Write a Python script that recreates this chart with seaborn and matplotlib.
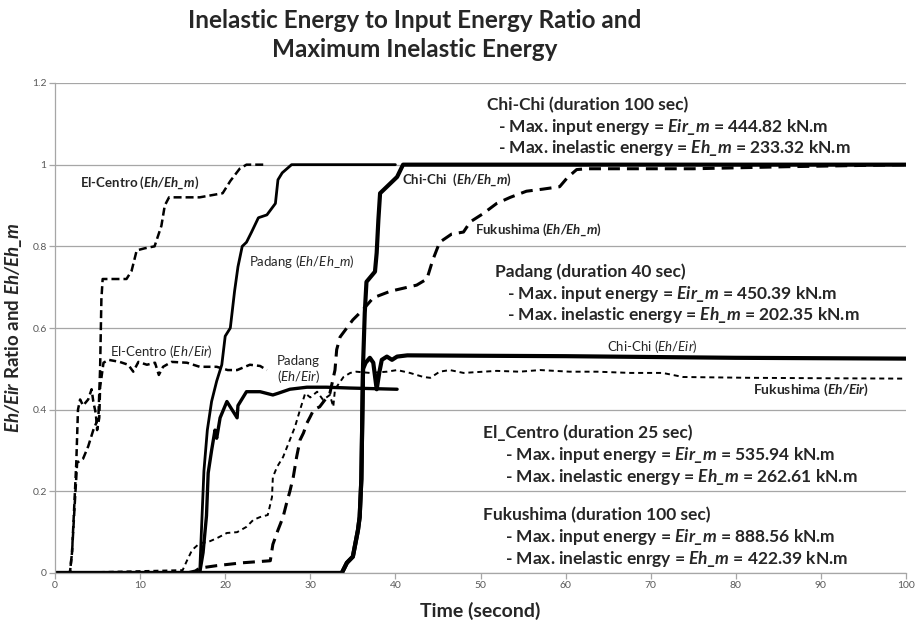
import pandas as pd
import seaborn as sns
import matplotlib.pyplot as plt
from matplotlib.ticker import FuncFormatter

# values: time (second) vs ratio
ec_m_t = [0, 1.75, 2.0, 2.35, 2.6, 3.3, 3.9, 4.5, 5.1, 5.3, 5.45, 5.6, 6.5, 8.4, 9.0, 9.6,
          10.5, 11.7, 12.5, 12.9, 13.4, 15.0, 17.0, 19.7, 20.6, 21.7, 22.5, 24.7]
ec_m_v = [0, 0, 0.05, 0.18, 0.27, 0.28, 0.31, 0.35, 0.38, 0.5, 0.67, 0.72, 0.72, 0.72, 0.74, 0.79,
          0.795, 0.80, 0.85, 0.90, 0.92, 0.92, 0.92, 0.93, 0.96, 0.99, 1.0, 1.0]

ec_r_t = [0, 1.75, 2.0, 2.3, 2.5, 2.7, 2.95, 3.3, 3.9, 4.3, 4.5, 4.8, 4.95, 5.2, 5.3, 5.7, 6.3,
          7.6, 8.6, 9.2, 9.8, 10.8, 11.75, 12.2, 12.7, 13.7, 15.5, 17.0, 19.0, 20.3, 21.4,
          22.9, 24.1, 24.9]
ec_r_v = [0, 0, 0.05, 0.18, 0.27, 0.40, 0.425, 0.41, 0.425, 0.45, 0.42, 0.39, 0.35, 0.38, 0.455,
          0.515, 0.522, 0.517, 0.51, 0.493, 0.517, 0.51, 0.515, 0.485, 0.505, 0.517, 0.515,
          0.505, 0.505, 0.497, 0.497, 0.51, 0.507, 0.497]

pd_m_t = [0, 17.0, 17.2, 17.5, 17.9, 18.4, 19.0, 19.6, 20.0, 20.6, 21.1, 21.5, 22.0, 22.5,
          23.1, 23.9, 24.9, 25.9, 26.2, 26.7, 27.8, 40.0]
pd_m_v = [0, 0, 0.10, 0.25, 0.35, 0.42, 0.47, 0.51, 0.58, 0.60, 0.69, 0.75, 0.80, 0.81,
          0.835, 0.87, 0.877, 0.905, 0.963, 0.98, 1.0, 1.0]

pd_r_t = [0, 17.0, 17.4, 17.8, 18.0, 18.4, 18.8, 19.0, 19.4, 20.2, 20.8, 21.4, 21.5, 22.5,
          23.3, 24.1, 25.6, 26.2, 27.6, 29.6, 31.9, 34.6, 40.2]
pd_r_v = [0, 0, 0.05, 0.14, 0.245, 0.30, 0.35, 0.33, 0.38, 0.42, 0.40, 0.38, 0.41, 0.444,
          0.444, 0.444, 0.436, 0.44, 0.45, 0.455, 0.455, 0.453, 0.45]

cc_m_t = [0, 33.7, 34.3, 35.0, 35.6, 35.8, 36.0, 36.2, 36.4, 36.6, 37.0, 37.6, 37.8, 38.0,
          38.2, 39.0, 40.2, 40.9, 100]
cc_m_v = [0, 0, 0.025, 0.04, 0.105, 0.137, 0.23, 0.51, 0.637, 0.713, 0.723, 0.738, 0.784,
          0.865, 0.93, 0.946, 0.97, 1.0, 1.0]

cc_r_t = [0, 33.7, 34.3, 35.0, 35.6, 35.8, 36.0, 36.2, 36.5, 37.0, 37.4, 37.8, 38.1, 38.4,
          39.0, 39.6, 40.2, 41.4, 50, 60, 70, 80, 90, 100]
cc_r_v = [0, 0, 0.025, 0.04, 0.105, 0.137, 0.23, 0.50, 0.515, 0.527, 0.515, 0.45, 0.49, 0.522,
          0.53, 0.522, 0.53, 0.533, 0.532, 0.531, 0.529, 0.527, 0.526, 0.525]

fk_m_t = [0, 15.5, 16.5, 17.0, 19.0, 22.0, 25.3, 25.6, 26.2, 26.8, 27.2, 27.6, 28.0, 28.4,
          28.8, 29.2, 29.6, 30.0, 30.4, 31.1, 32.3, 32.9, 33.1, 33.5, 35.0, 36.2, 37.4, 39.4,
          42.5, 43.7, 44.4, 45.2, 46.6, 48.0, 48.8, 50.3, 51.9, 53.5, 55.4, 57.3, 59.3, 60.2,
          61.3, 62.5, 75, 86, 100]
fk_m_v = [0, 0, 0.005, 0.012, 0.018, 0.025, 0.03, 0.07, 0.105, 0.137, 0.17, 0.2, 0.235, 0.285,
          0.326, 0.343, 0.367, 0.383, 0.40, 0.407, 0.44, 0.497, 0.547, 0.578, 0.62, 0.645,
          0.674, 0.69, 0.705, 0.72, 0.767, 0.81, 0.83, 0.835, 0.86, 0.88, 0.905, 0.92, 0.935,
          0.94, 0.946, 0.968, 0.988, 0.99, 0.99, 0.995, 1.0]

fk_r_t = [0, 15.0, 15.5, 16.1, 17.0, 18.0, 19.0, 20.2, 21.4, 22.5, 23.3, 24.1, 25.0, 25.5,
          25.6, 26.1, 26.8, 27.6, 28.2, 28.8, 29.4, 30.0, 30.8, 31.5, 32.3, 32.7, 32.9, 33.9,
          34.7, 35.4, 37.0, 39.0, 40.2, 41.7, 43.3, 44.1, 45.2, 46.4, 48.0, 51.9, 54.6, 57.0,
          60.5, 63.7, 67.6, 71.4, 73.8, 81.7, 90, 100]
fk_r_v = [0, 0.007, 0.03, 0.056, 0.073, 0.076, 0.085, 0.098, 0.1, 0.113, 0.13, 0.137, 0.142,
          0.186, 0.235, 0.26, 0.284, 0.326, 0.358, 0.40, 0.44, 0.43, 0.444, 0.424, 0.436,
          0.407, 0.45, 0.48, 0.49, 0.493, 0.49, 0.493, 0.497, 0.49, 0.48, 0.478, 0.493, 0.497,
          0.49, 0.495, 0.493, 0.497, 0.493, 0.493, 0.49, 0.49, 0.48, 0.478, 0.477, 0.476]

sns.set_style("white")
plt.rcParams["font.family"] = ["Lato", "DejaVu Sans"]
plt.rcParams["mathtext.fontset"] = "custom"
plt.rcParams["mathtext.rm"] = "Lato"
plt.rcParams["mathtext.it"] = "Lato:italic"
plt.rcParams["mathtext.bf"] = "Lato:bold"
plt.rcParams["mathtext.bfit"] = "Lato:italic:bold"

fig = plt.figure(figsize=(9.15, 6.22), dpi=100)
ax = fig.add_axes([55 / 915, 49 / 622, 851 / 915, 490 / 622])

# (t, v, linewidth, linestyle)
series = [
    (fk_r_t, fk_r_v, 1.4, (0, (2.6, 2.0))),
    (fk_m_t, fk_m_v, 2.2, (0, (3.9, 2.3))),
    (ec_r_t, ec_r_v, 1.8, (0, (2.8, 1.6))),
    (ec_m_t, ec_m_v, 1.8, (0, (3.2, 1.6))),
    (pd_r_t, pd_r_v, 2.4, "-"),
    (pd_m_t, pd_m_v, 2.0, "-"),
    (cc_r_t, cc_r_v, 3.0, "-"),
    (cc_m_t, cc_m_v, 3.0, "-"),
]
for t, v, lw, ls in series:
    sns.lineplot(x=t, y=v, ax=ax, color="black", linewidth=lw, linestyle=ls,
                 estimator=None, sort=False)

ax.set_xlim(0, 100)
ax.set_ylim(0, 1.2)
ax.set_xticks(range(0, 101, 10))
ax.set_yticks([0, 0.2, 0.4, 0.6, 0.8, 1.0, 1.2])
ax.yaxis.set_major_formatter(FuncFormatter(lambda v, p: f"{v:g}"))
ax.tick_params(labelsize=7.5, labelcolor="#595959", color="#a6a6a6", length=4, width=0.9,
               direction="out", bottom=True, left=True, pad=2)
ax.yaxis.grid(True, color="#a6a6a6", linewidth=0.9)
ax.set_axisbelow(True)
for side in ["top", "right"]:
    ax.spines[side].set_visible(False)
for side in ["left", "bottom"]:
    ax.spines[side].set_color("#a6a6a6")
    ax.spines[side].set_linewidth(0.9)

ax.set_xlabel("Time (second)", fontsize=14, fontweight="bold")
ax.xaxis.set_label_coords(0.5, -0.058)
ax.set_ylabel(r"$\mathbfit{Eh/Eir}$ Ratio and $\mathbfit{Eh/Eh\_m}$", fontsize=13.5,
              fontweight="bold")
ax.yaxis.set_label_coords(-0.036, 0.5)

fig.text(415 / 915, 1 - 35 / 622,
         "Inelastic Energy to Input Energy Ratio and\nMaximum Inelastic Energy",
         ha="center", va="center", fontsize=17.5, fontweight="bold", linespacing=1.3)

# curve labels
small = 9.5
ax.text(2.94, 0.956, r"El-Centro ($\mathbfit{Eh/Eh\_m}$)", fontsize=small, fontweight="bold", va="center")
ax.text(6.46, 0.542, r"El-Centro ($\mathit{Eh/Eir}$)", fontsize=small, va="center")
ax.text(22.8, 0.762, r"Padang ($\mathit{Eh/Eh\_m}$)", fontsize=small, va="center")
ax.text(28.6, 0.497, "Padang\n" + r"($\mathit{Eh/Eir}$)", fontsize=small, va="center",
        ha="center", linespacing=1.1)
ax.text(40.8, 0.963, r"Chi-Chi  ($\mathbfit{Eh/Eh\_m}$)", fontsize=small, fontweight="bold", va="center")
ax.text(49.4, 0.841, r"Fukushima ($\mathbfit{Eh/Eh\_m}$)", fontsize=small, fontweight="bold", va="center")
ax.text(64.9, 0.554, r"Chi-Chi ($\mathit{Eh/Eir}$)", fontsize=small, va="center")
ax.text(82.0, 0.449, r"Fukushima ($\mathbfit{Eh/Eir}$)", fontsize=10, fontweight="bold", va="center")

# summary blocks
big = 12.5
blocks = [
    (50.8, 52.1, 1.147, "Chi-Chi (duration 100 sec)", "energy", "444.82", "233.32"),
    (51.7, 53.1, 0.738, "Padang (duration 40 sec)", "energy", "450.39", "202.35"),
    (50.3, 52.9, 0.343, "El_Centro (duration 25 sec)", "energy", "535.94", "262.61"),
    (50.3, 52.9, 0.142, "Fukushima (duration 100 sec)", "enrgy", "888.56", "422.39"),
]
for x0, x1, y0, head, word, eir, eh in blocks:
    ax.text(x0, y0, head, fontsize=big, fontweight="bold", va="center")
    ax.text(x1, y0 - 0.054, r"- Max. input energy = $\mathbfit{Eir\_m}$ = " + eir + " kN.m",
            fontsize=big, fontweight="bold", va="center")
    ax.text(x1, y0 - 0.107, r"- Max. inelastic " + word + r" = $\mathbfit{Eh\_m}$ = " + eh + " kN.m",
            fontsize=big, fontweight="bold", va="center")

fig.savefig("out.png", dpi=100)
